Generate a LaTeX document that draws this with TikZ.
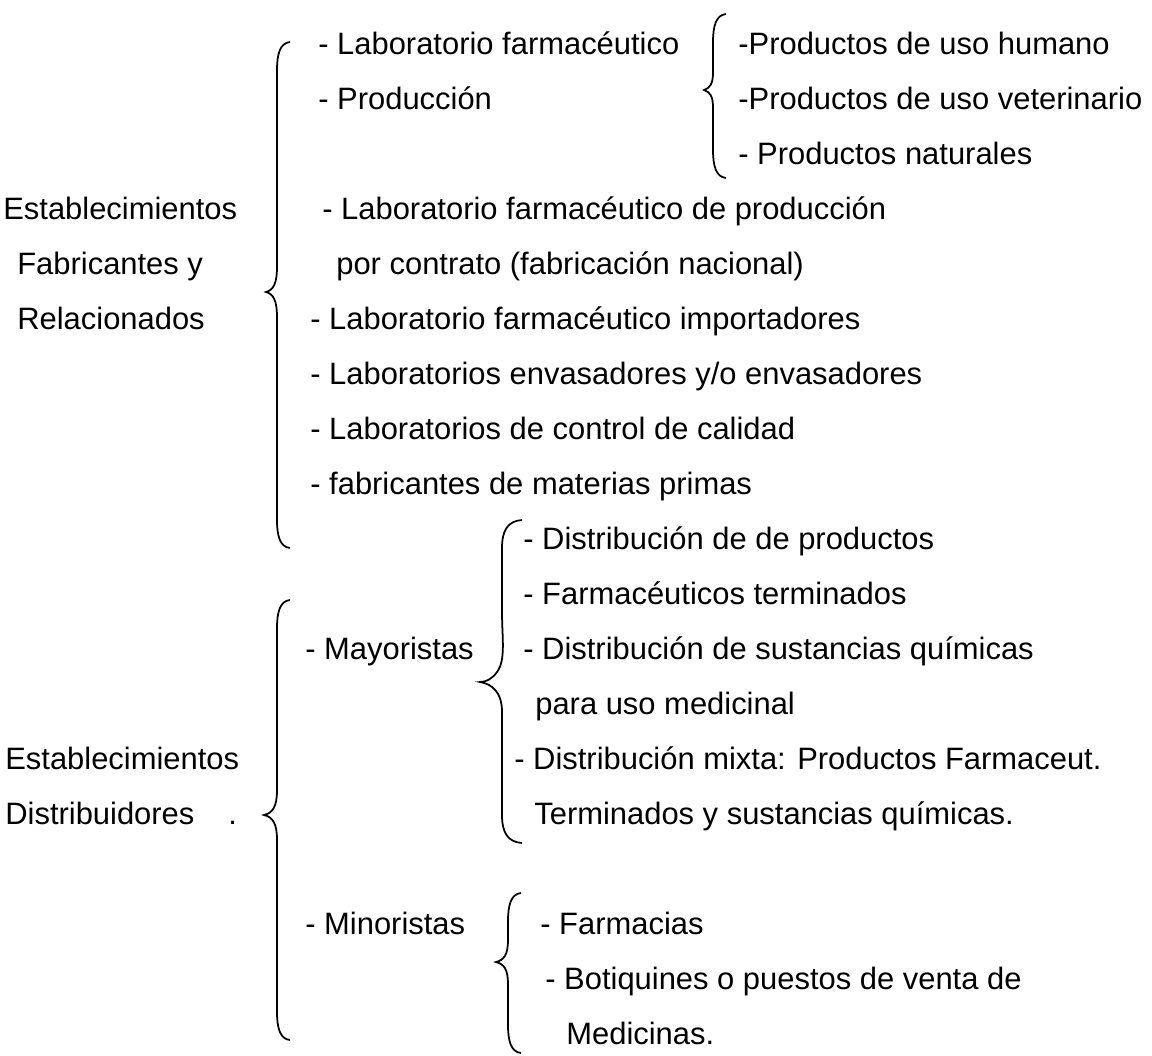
\documentclass[tikz,border=0pt]{standalone}
\usepackage{fontspec}
\setmainfont{Liberation Sans}

% curly brace: x of line, top y, tip y, bottom y, tip depth, tip half length
\newcommand{\wbrace}[6]{%
  \draw[brace] (#1+13,#2) .. controls (#1+3,#2+1) and (#1,#2+12) .. (#1,#2+28)
    -- (#1,#3-#6) .. controls (#1,#3-#6/3) and (#1-#5/3,#3-2) .. (#1-#5,#3)
    .. controls (#1-#5/3,#3+2) and (#1,#3+#6/3) .. (#1,#3+#6)
    -- (#1,#4-28) .. controls (#1,#4-12) and (#1+3,#4-1) .. (#1+13,#4);}

\begin{document}
\begin{tikzpicture}[
		x=0.02cm, y=-0.02cm,
		txt/.style={anchor=base west, inner sep=0pt, font=\fontsize{17.6}{21}\selectfont},
		brace/.style={line width=1pt}
		]
		\useasboundingbox (0,0) rectangle (1152,1055);
		
		% Group titles
		\node[txt] (estfab) at (3,54+55*3) {Establecimientos};
		\node[txt] (fab) at (17,54+55*4) {Fabricantes y};
		\node[txt] (rel) at (17,54+55*5) {Relacionados};
		\node[txt] (estdis) at (5,54+55*13) {Establecimientos};
		\node[txt] (dis) at (5,54+55*14) {Distribuidores\hspace{1.1em}.};
		
		% Fabricantes items
		\foreach \x/\r/\t in {318/0/{- Laboratorio farmacéutico}, 318/1/{- Producción},
			322/3/{- Laboratorio farmacéutico de producción},
			336/4/{por contrato (fabricación nacional)},
			310/5/{- Laboratorio farmacéutico importadores},
			310/6/{- Laboratorios envasadores y/o envasadores},
			310/7/{- Laboratorios de control de calidad},
			310/8/{- fabricantes de materias primas}}
		\node[txt] (fa\r) at (\x,54+55*\r) {\t};
		
		% Productos
		\foreach \x/\r/\t in {738/0/{-Productos de uso humano}, 738/1/{-Productos de uso veterinario},
			738/2/{- Productos naturales}}
		\node[txt] (pr\r) at (\x,54+55*\r) {\t};
		
		% Distribuidores: mayoristas y minoristas
		\node[txt] (may) at (305,54+55*11) {- Mayoristas};
		\node[txt] (min) at (305,54+55*16) {- Minoristas};
		
		\foreach \x/\r/\t in {523/9/{- Distribución de de productos}, 523/10/{- Farmacéuticos terminados},
			523/11/{- Distribución de sustancias químicas}, 535/12/{para uso medicinal},
			514/13/{- Distribución mixta: Productos Farmaceut.},
			534/14/{Terminados y sustancias químicas.}}
		\node[txt] (ma\r) at (\x,54+55*\r) {\t};
		
		\foreach \x/\r/\t in {540/16/{- Farmacias}, 545/17/{- Botiquines o puestos de venta de},
			566/18/{Medicinas.}}
		\node[txt] (mi\r) at (\x,54+55*\r) {\t};
		
		% Braces
		\wbrace{277}{42}{292}{548}{11}{25}
		\wbrace{713}{14}{90}{178}{9}{18}
		\wbrace{277}{600}{815}{1040}{13}{25}
		\wbrace{508}{893}{962}{1053}{12}{22}
		% mayoristas brace
		\draw[brace] (522,520) .. controls (508,521) and (502,530) .. (502,548)
			-- (502,612) .. controls (502,638) and (506,660) .. (497,672)
			.. controls (492,679) and (486,682) .. (480,682)
			.. controls (492,684) and (502,692) .. (502,712)
			-- (502,815) .. controls (502,833) and (508,842) .. (522,843);
		
	\end{tikzpicture}
\end{document}
